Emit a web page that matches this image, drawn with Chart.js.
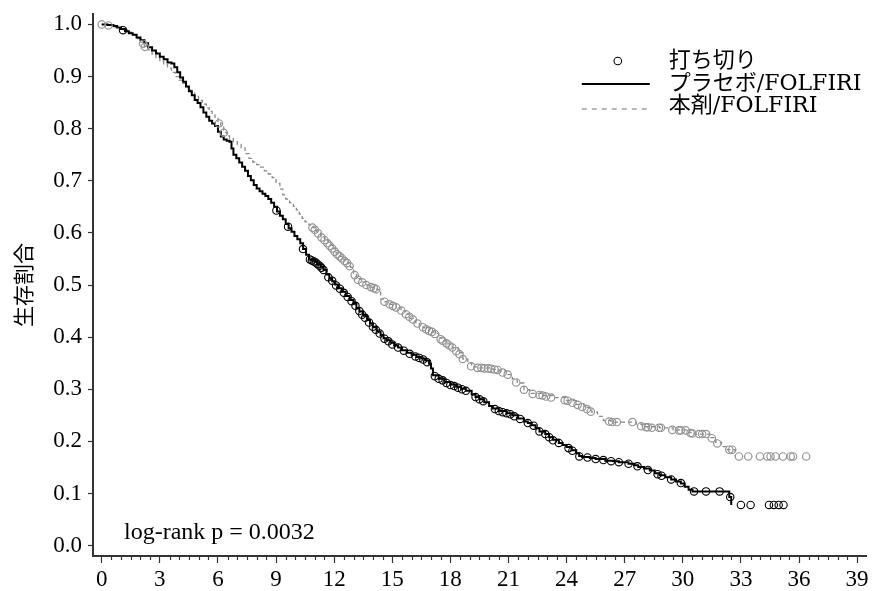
<!DOCTYPE html>
<html><head><meta charset="utf-8">
<script src="https://cdn.jsdelivr.net/npm/chart.js@4.4.1/dist/chart.umd.min.js"></script>
<style>html,body{margin:0;padding:0;background:#fff}#wrap{width:872px;height:591px;position:relative}</style>
</head><body><div id="wrap"><canvas id="c" width="872" height="591"></canvas></div>
<script>
// ---- Data ----
const placeboName = 'プラセボ/FOLFIRI';
const drugName = '本剤/FOLFIRI';
const censorName = '打ち切り';
const noteText = 'log-rank p = 0.0032';
const yAxisTitle = '生存割合';

const xTickValues = [0,3,6,9,12,15,18,21,24,27,30,33,36,39];
const yTickValues = [0,0.1,0.2,0.3,0.4,0.5,0.6,0.7,0.8,0.9,1.0];

const placeboTime = [0,0.3,0.6,0.8,1.0,1.2,1.4,1.6,1.8,2.0,2.2,2.4,2.6,2.8,3.0,3.2,3.4,3.6,3.75,3.9,4.05,4.2,4.35,4.5,4.65,4.8,4.95,5.1,5.25,5.4,5.55,5.7,5.85,6.0,6.15,6.3,6.45,6.6,6.7,6.8,6.95,7.1,7.25,7.4,7.55,7.7,7.85,8.0,8.15,8.3,8.45,8.6,8.75,8.9,9.05,9.2,9.35,9.5,9.65,9.8,9.95,10.1,10.25,10.4,10.55,10.7,10.85,11.0,11.15,11.3,11.45,11.6,11.75,11.9,12.05,12.2,12.4,12.6,12.8,13.0,13.15,13.3,13.5,13.7,13.85,14.0,14.2,14.4,14.55,14.7,14.9,15.1,15.3,15.5,15.75,16.0,16.25,16.5,16.7,16.9,17.0,17.1,17.4,17.7,18.0,18.3,18.55,18.8,19.1,19.3,19.5,19.75,20.0,20.2,20.5,20.9,21.2,21.5,21.8,22.0,22.2,22.4,22.6,22.9,23.1,23.3,23.6,23.8,24.0,24.25,24.5,24.65,24.8,25.2,25.5,26.0,26.4,26.7,27.2,27.5,27.7,28.0,28.3,28.55,28.8,29.1,29.4,29.65,29.9,30.1,30.3,30.5,32.4,32.5];
const placeboSurv = [1.0,0.999,0.997,0.994,0.991,0.987,0.983,0.980,0.975,0.970,0.964,0.956,0.950,0.944,0.938,0.933,0.927,0.925,0.918,0.908,0.898,0.890,0.881,0.872,0.864,0.855,0.849,0.841,0.831,0.823,0.815,0.810,0.805,0.794,0.785,0.779,0.777,0.775,0.762,0.750,0.743,0.735,0.727,0.719,0.709,0.701,0.692,0.685,0.680,0.675,0.671,0.665,0.658,0.650,0.641,0.633,0.626,0.617,0.609,0.602,0.594,0.588,0.580,0.569,0.558,0.549,0.547,0.544,0.540,0.535,0.529,0.520,0.512,0.507,0.501,0.494,0.487,0.479,0.471,0.464,0.456,0.449,0.441,0.433,0.426,0.419,0.411,0.404,0.398,0.394,0.389,0.384,0.380,0.375,0.370,0.366,0.362,0.359,0.355,0.349,0.340,0.327,0.320,0.314,0.309,0.305,0.301,0.297,0.290,0.285,0.281,0.275,0.268,0.263,0.258,0.254,0.250,0.244,0.238,0.235,0.231,0.225,0.219,0.214,0.208,0.203,0.197,0.193,0.189,0.183,0.177,0.172,0.170,0.168,0.166,0.163,0.162,0.160,0.157,0.154,0.151,0.148,0.144,0.139,0.135,0.131,0.127,0.123,0.119,0.113,0.107,0.104,0.093,0.078];

const drugTime = [0,0.35,0.7,1.0,1.3,1.55,1.8,2.0,2.2,2.4,2.6,2.8,3.0,3.2,3.4,3.6,3.8,4.0,4.2,4.4,4.6,4.8,5.0,5.2,5.4,5.55,5.7,5.85,6.0,6.15,6.3,6.45,6.6,6.8,7.0,7.2,7.4,7.6,7.8,8.0,8.2,8.4,8.6,8.8,9.0,9.2,9.35,9.5,9.7,9.9,10.05,10.2,10.35,10.5,10.7,10.9,11.1,11.3,11.5,11.7,11.9,12.1,12.3,12.5,12.7,12.85,13.0,13.15,13.4,13.7,13.95,14.2,14.4,14.6,14.9,15.2,15.45,15.7,15.95,16.2,16.4,16.6,16.9,17.15,17.4,17.6,17.85,18.1,18.4,18.65,18.9,19.1,19.5,20.2,20.5,20.9,21.2,21.45,21.8,22.1,22.7,23.3,24.0,24.5,24.9,25.3,25.6,25.9,26.3,27.6,27.9,28.8,29.5,30.3,30.6,31.4,31.7,32.0,32.3,32.7];
const drugSurv = [1.0,0.998,0.994,0.990,0.985,0.980,0.973,0.966,0.958,0.951,0.943,0.935,0.929,0.923,0.916,0.908,0.900,0.893,0.887,0.880,0.871,0.862,0.854,0.847,0.840,0.833,0.826,0.820,0.812,0.803,0.793,0.786,0.781,0.775,0.770,0.763,0.752,0.743,0.736,0.731,0.726,0.719,0.713,0.706,0.695,0.684,0.673,0.665,0.658,0.651,0.644,0.636,0.628,0.621,0.615,0.610,0.602,0.593,0.586,0.578,0.570,0.561,0.555,0.548,0.541,0.534,0.523,0.512,0.506,0.499,0.495,0.491,0.473,0.468,0.463,0.457,0.451,0.444,0.436,0.428,0.422,0.418,0.412,0.407,0.398,0.393,0.387,0.380,0.370,0.358,0.350,0.343,0.341,0.338,0.335,0.328,0.320,0.312,0.299,0.292,0.288,0.284,0.278,0.271,0.265,0.256,0.248,0.240,0.237,0.233,0.228,0.226,0.222,0.217,0.214,0.207,0.198,0.190,0.184,0.171];

const placeboCensorTime = [1.1,9.02,9.62,10.39,10.75,10.85,10.95,11.05,11.15,11.25,11.35,11.45,11.7,11.9,12.1,12.3,12.5,12.7,12.9,13.1,13.3,13.45,13.6,13.8,14.0,14.15,14.35,14.6,14.8,15.0,15.3,15.6,15.9,16.2,16.4,16.6,16.8,17.2,17.4,17.6,17.8,18.0,18.2,18.4,18.6,18.8,19.3,19.5,19.7,20.3,20.5,20.7,20.9,21.1,21.3,21.6,22.0,22.3,22.6,22.9,23.1,23.3,23.6,24.1,24.3,24.66,25.08,25.5,25.9,26.3,26.7,27.2,27.66,28.2,28.7,28.9,29.4,29.9,30.58,31.2,31.9,32.45,33.0,33.5,34.45,34.7,34.95,35.2];
const placeboCensorSurv = [0.989,0.643,0.612,0.569,0.549,0.547,0.545,0.543,0.540,0.537,0.533,0.529,0.515,0.508,0.499,0.493,0.485,0.477,0.469,0.460,0.450,0.443,0.437,0.428,0.420,0.414,0.407,0.397,0.392,0.386,0.380,0.374,0.368,0.363,0.360,0.357,0.352,0.325,0.320,0.317,0.312,0.308,0.306,0.303,0.300,0.297,0.285,0.281,0.277,0.262,0.258,0.256,0.254,0.252,0.248,0.243,0.235,0.230,0.219,0.214,0.208,0.202,0.197,0.187,0.182,0.171,0.169,0.166,0.164,0.162,0.160,0.157,0.152,0.145,0.137,0.134,0.127,0.120,0.104,0.104,0.104,0.093,0.078,0.078,0.078,0.078,0.078,0.078];

const drugCensorTime = [0.0,0.35,2.14,2.23,6.05,6.3,10.88,11.0,11.17,11.35,11.5,11.65,11.77,11.9,12.03,12.15,12.28,12.4,12.54,12.67,12.8,13.06,13.23,13.45,13.66,13.9,14.05,14.17,14.6,14.86,15.03,15.2,15.46,15.7,15.88,16.06,16.3,16.58,16.75,16.9,17.05,17.2,17.5,17.6,17.8,17.95,18.1,18.3,18.47,18.64,19.07,19.4,19.6,19.76,19.95,20.1,20.28,20.44,20.7,20.96,21.4,21.8,22.25,22.6,22.76,22.94,23.2,23.9,24.05,24.3,24.57,24.8,25.05,25.25,26.2,26.35,26.6,27.4,27.85,28.1,28.2,28.4,28.77,28.87,29.46,29.8,29.9,30.15,30.4,30.5,30.84,31.0,31.2,31.5,31.78,32.4,32.55,32.9,33.38,33.98,34.36,34.53,34.79,35.17,35.57,35.69,36.37];
const drugCensorSurv = [1.0,0.998,0.963,0.957,0.810,0.792,0.610,0.606,0.599,0.591,0.586,0.580,0.575,0.570,0.564,0.559,0.555,0.551,0.546,0.542,0.536,0.519,0.510,0.505,0.500,0.496,0.494,0.492,0.468,0.463,0.460,0.457,0.451,0.444,0.439,0.434,0.426,0.419,0.415,0.412,0.410,0.406,0.396,0.393,0.388,0.384,0.380,0.373,0.367,0.358,0.344,0.341,0.341,0.340,0.340,0.339,0.338,0.337,0.332,0.328,0.313,0.299,0.291,0.289,0.288,0.286,0.284,0.279,0.278,0.274,0.270,0.266,0.262,0.257,0.238,0.237,0.237,0.237,0.229,0.227,0.227,0.226,0.226,0.226,0.222,0.221,0.221,0.221,0.216,0.215,0.214,0.214,0.214,0.206,0.196,0.184,0.184,0.171,0.171,0.171,0.171,0.171,0.171,0.171,0.171,0.171,0.171];

// ---- Styles ----
const BLACK = '#000000';
const GREY_LINE = '#8a8a8a';
const GREY_MARK = '#949494';
const AXIS = '#333333';
const SERIF = '"Liberation Serif", "Noto Sans CJK JP", serif';
const LEGEND_FONT = '22px "DejaVu Serif", "Noto Sans CJK JP", serif';
const DRUG_DASH = [4, 3];

const pts = (xs, ys) => xs.map((x, i) => ({ x: x, y: ys[i] }));

const minorTickPlugin = {
  id: 'minorTicks',
  afterDraw(chart) {
    const xs = chart.scales.x, ctx = chart.ctx;
    ctx.save();
    ctx.strokeStyle = AXIS; ctx.lineWidth = 1.2;
    for (let i = 0; i < xTickValues.length - 1; i++) {
      const step = (xTickValues[i + 1] - xTickValues[i]) / 6;
      for (let k = 1; k < 6; k++) {
        const px = Math.round(xs.getPixelForValue(xTickValues[i] + k * step)) + 0.5;
        ctx.beginPath(); ctx.moveTo(px, xs.top); ctx.lineTo(px, xs.top + 4); ctx.stroke();
      }
    }
    ctx.restore();
  }
};

const legendPlugin = {
  id: 'kmLegend',
  afterDraw(chart) {
    const ctx = chart.ctx, ca = chart.chartArea;
    const lx0 = ca.right - 285, lx1 = ca.right - 217, tx = ca.right - 198;
    const rows = [ca.top + 47, ca.top + 70, ca.top + 92];
    ctx.save();
    ctx.font = LEGEND_FONT;
    ctx.fillStyle = '#000';
    ctx.textBaseline = 'middle';
    ctx.textAlign = 'left';
    ctx.strokeStyle = BLACK; ctx.lineWidth = 1.1;
    ctx.beginPath(); ctx.arc((lx0 + lx1) / 2 + 2, rows[0], 3.8, 0, Math.PI * 2); ctx.stroke();
    ctx.fillText(censorName, tx, rows[0]);
    ctx.lineWidth = 2; ctx.strokeStyle = BLACK;
    ctx.beginPath(); ctx.moveTo(lx0, rows[1]); ctx.lineTo(lx1, rows[1]); ctx.stroke();
    ctx.fillText(placeboName, tx, rows[1]);
    ctx.lineWidth = 1.2; ctx.strokeStyle = GREY_LINE; ctx.setLineDash([5, 5]);
    ctx.beginPath(); ctx.moveTo(lx0, rows[2] + 3); ctx.lineTo(lx1, rows[2] + 3); ctx.stroke();
    ctx.setLineDash([]);
    ctx.fillText(drugName, tx, rows[2]);
    ctx.restore();
  }
};

const notePlugin = {
  id: 'note',
  afterDraw(chart) {
    const ctx = chart.ctx, ca = chart.chartArea;
    ctx.save();
    ctx.font = '24px ' + SERIF;
    ctx.fillStyle = '#000';
    ctx.textBaseline = 'alphabetic';
    ctx.textAlign = 'left';
    ctx.fillText(noteText, ca.left + 31, ca.bottom - 17);
    ctx.restore();
  }
};

new Chart(document.getElementById('c'), {
  type: 'line',
  data: {
    datasets: [
      { label: censorName, data: pts(placeboCensorTime, placeboCensorSurv), showLine: false, order: 0,
        pointStyle: 'circle', pointRadius: 3.7, pointBorderWidth: 1.1, pointBorderColor: BLACK, pointBackgroundColor: 'rgba(0,0,0,0)' },
      { label: censorName, data: pts(drugCensorTime, drugCensorSurv), showLine: false, order: 1,
        pointStyle: 'circle', pointRadius: 3.7, pointBorderWidth: 1.2, pointBorderColor: GREY_MARK, pointBackgroundColor: 'rgba(0,0,0,0)' },
      { label: placeboName, data: pts(placeboTime, placeboSurv), stepped: true, order: 2,
        borderColor: BLACK, borderWidth: 2, pointRadius: 0, fill: false },
      { label: drugName, data: pts(drugTime, drugSurv), stepped: true, order: 3,
        borderColor: GREY_LINE, borderWidth: 1.3, borderDash: DRUG_DASH, pointRadius: 0, fill: false }
    ]
  },
  options: {
    responsive: false, animation: false, devicePixelRatio: 1,
    layout: { padding: { top: 14, right: 4, left: 0, bottom: 0 } },
    plugins: { legend: { display: false }, tooltip: { enabled: false } },
    scales: {
      x: {
        type: 'linear', min: -0.45, max: 39.5,
        afterBuildTicks: s => { s.ticks = xTickValues.map(v => ({ value: v })); },
        afterFit: s => { s.height = 35; s.paddingLeft = 0; s.paddingRight = 0; },
        grid: { display: true, drawOnChartArea: false, drawTicks: true, tickLength: 7, tickColor: AXIS, tickWidth: 1.2 },
        border: { display: true, color: AXIS, width: 2 },
        ticks: { color: '#000', font: { family: SERIF, size: 23 }, padding: 3, maxRotation: 0, autoSkip: false }
      },
      y: {
        type: 'linear', min: -0.02, max: 1.02,
        afterBuildTicks: s => { s.ticks = yTickValues.map(v => ({ value: v })); },
        afterFit: s => { s.width = 93; s.paddingTop = 0; s.paddingBottom = 0; },
        grid: { display: true, drawOnChartArea: false, drawTicks: true, tickLength: 5, tickColor: AXIS, tickWidth: 1.2 },
        border: { display: true, color: AXIS, width: 2 },
        ticks: { color: '#000', font: { family: SERIF, size: 23 }, padding: 6, autoSkip: false, callback: v => Number(v).toFixed(1) },
        title: { display: true, text: yAxisTitle, color: '#000', font: { family: '"Noto Sans CJK JP", sans-serif', size: 21 }, padding: { top: 10, bottom: 0 } }
      }
    }
  },
  plugins: [minorTickPlugin, legendPlugin, notePlugin]
});
</script>
</body></html>
